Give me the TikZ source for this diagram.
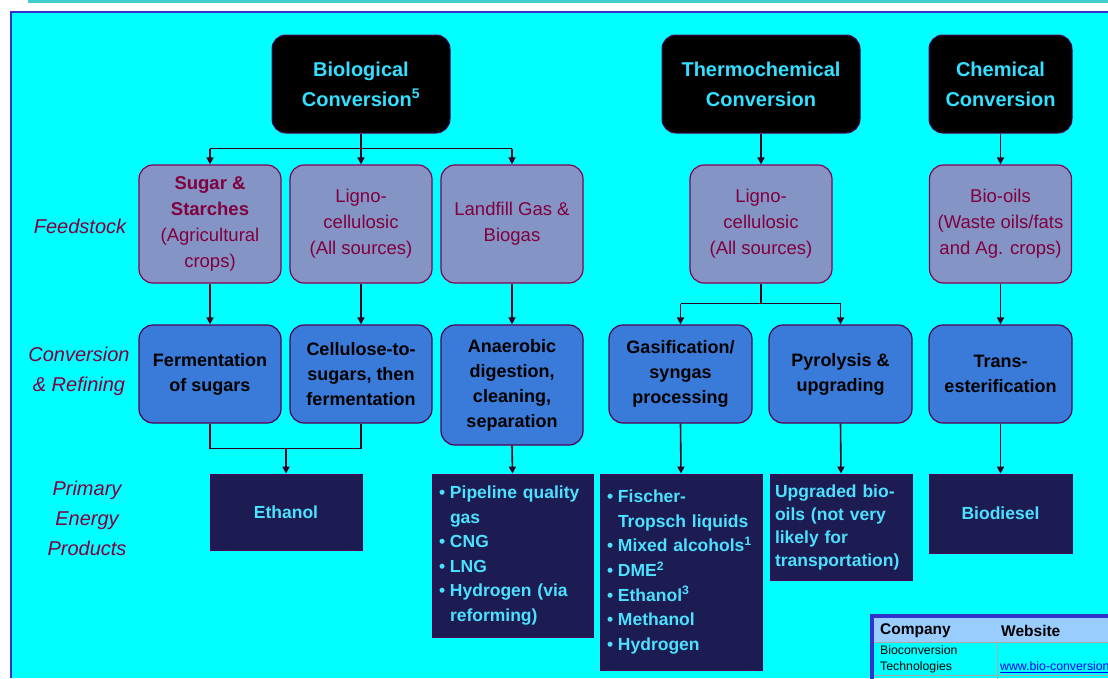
\documentclass[tikz,border=0pt]{standalone}
\usepackage{fontspec}
\setmainfont{Liberation Sans}
\usetikzlibrary{arrows.meta}
\definecolor{bgcyan}{HTML}{00FFFF}
\definecolor{framec}{HTML}{3333CC}
\definecolor{stripc}{HTML}{44CCCC}
\definecolor{feedfill}{HTML}{8494C4}
\definecolor{feedline}{HTML}{880055}
\definecolor{feedtext}{HTML}{800040}
\definecolor{convfill}{HTML}{3A7AD8}
\definecolor{convline}{HTML}{550055}
\definecolor{prodfill}{HTML}{1C1C52}
\definecolor{prodtext}{HTML}{4DE0FF}
\definecolor{toptext}{HTML}{33E0FF}
\definecolor{connc}{HTML}{330022}
\definecolor{labc}{HTML}{800040}
\definecolor{headc}{HTML}{99CCFF}
\definecolor{gridc}{HTML}{AAAAAA}
\definecolor{linkc}{HTML}{0000EE}
\newcommand{\itm}{\makebox[11pt][l]{\textbullet}}
\newcommand{\ind}{\hspace*{11pt}}
\begin{document}
\begin{tikzpicture}[x=1pt,y=-1pt,
  topbox/.style={draw=convline, line width=1pt, fill=black, rounded corners=14pt,
    text=toptext, font=\bfseries\fontsize{20}{30}\selectfont, align=center, inner sep=0pt},
  feedbox/.style={draw=feedline, line width=1.2pt, fill=feedfill, rounded corners=14pt,
    text=feedtext, font=\fontsize{18.5}{26}\selectfont, align=center, inner sep=0pt,
    minimum width=142pt, minimum height=118pt},
  convbox/.style={draw=convline, line width=1.2pt, fill=convfill, rounded corners=14pt,
    text=black, font=\bfseries\fontsize{18}{25}\selectfont, align=center, inner sep=0pt,
    minimum width=142pt, minimum height=98pt},
  prodbox/.style={draw=convline, line width=0.8pt, fill=prodfill,
    text=prodtext, font=\bfseries\fontsize{17.5}{24.6}\selectfont, inner sep=0pt},
  sidelab/.style={text=labc, font=\itshape\fontsize{20}{30}\selectfont, align=center},
  conn/.style={draw=connc, line width=1.6pt},
  arr/.style={conn, -{Triangle[length=7pt,width=7pt]}},
  tabtext/.style={anchor=west, inner sep=0pt, text=black}
]
\useasboundingbox (0,0) rectangle (1108,678);
\fill[white] (0,0) rectangle (1108,678);
\fill[stripc] (28,0) rectangle (1108,3);
\fill[bgcyan] (11,12) rectangle (1108,678);
\draw[framec, line width=2pt] (11,678) -- (11,12) -- (1108,12);

% top boxes
\node[topbox, minimum width=178pt, minimum height=98pt] (bio) at (361,84) {Biological\\Conversion\textsuperscript{5}};
\node[topbox, minimum width=198pt, minimum height=98pt] (thermo) at (761,84) {Thermochemical\\Conversion};
\node[topbox, minimum width=143pt, minimum height=98pt] (chem) at (1000.5,84) {Chemical\\Conversion};

% feedstock
\node[feedbox] (sugar) at (210,224) {\textbf{Sugar \&}\\\textbf{Starches}\\(Agricultural\\crops)};
\node[feedbox] (ligno) at (361,224) {Ligno-\\cellulosic\\(All sources)};
\node[feedbox] (landfill) at (512,224) {Landfill Gas \&\\Biogas};
\node[feedbox] (lignot) at (761,224) {Ligno-\\cellulosic\\(All sources)};
\node[feedbox] (biooil) at (1000.5,224) {Bio-oils\\(Waste oils/fats\\and Ag. crops)};

% conversion
\node[convbox] (ferm) at (210,374) {Fermentation\\of sugars};
\node[convbox] (cell) at (361,374) {Cellulose-to-\\sugars, then\\fermentation};
\node[convbox, minimum height=120pt] (anaer) at (512,385) {Anaerobic\\digestion,\\cleaning,\\separation};
\node[convbox, minimum width=143pt] (gas) at (680.5,374) {Gasification/\\syngas\\processing};
\node[convbox, minimum width=143pt] (pyro) at (840.5,374) {Pyrolysis \&\\upgrading};
\node[convbox, minimum width=143pt] (trans) at (1000.5,374) {Trans-\\esterification};

% products
\node[prodbox, minimum width=152pt, minimum height=76pt, align=center] (ethanol) at (286,512) {Ethanol};
\node[prodbox, minimum width=161pt, minimum height=163pt, text width=147pt, align=left] (pipe) at (512.5,555.5)
  {\itm Pipeline quality\\\ind gas\\\itm CNG\\\itm LNG\\\itm Hydrogen (via\\\ind reforming)};
\node[prodbox, minimum width=162pt, minimum height=196pt, text width=148pt, align=left] (fischer) at (681,572)
  {\itm Fischer-\\\ind Tropsch liquids\\\itm Mixed alcohols\textsuperscript{1}\\\itm DME\textsuperscript{2}\\\itm Ethanol\textsuperscript{3}\\\itm Methanol\\\itm Hydrogen};
\node[prodbox, minimum width=142pt, minimum height=106pt, text width=132pt, align=left,
  font=\bfseries\fontsize{17.5}{23}\selectfont] (upg) at (841,527)
  {Upgraded bio-\\oils (not very\\likely for\\transportation)};
\node[prodbox, minimum width=143pt, minimum height=79pt, align=center] (biodiesel) at (1000.5,513.5) {Biodiesel};

% side labels
\node[sidelab] (lfeed) at (80,226) {Feedstock};
\node[sidelab] (lconv) at (79,371) {Conversion\\\& Refining};
\node[sidelab] (lprod) at (87,518) {Primary\\Energy\\Products};

% connectors: biological
\draw[conn] (bio.south) -- ++(0,15) coordinate (bj);
\draw[conn] (bj -| sugar.north) -- (bj -| landfill.north);
\draw[arr] (bj -| sugar.north) -- (sugar.north);
\draw[arr] (bj -| ligno.north) -- (ligno.north);
\draw[arr] (bj -| landfill.north) -- (landfill.north);
\draw[arr] (thermo.south) -- (lignot.north);
\draw[arr] (chem.south) -- (biooil.north);
\draw[arr] (sugar.south) -- (ferm.north);
\draw[arr] (ligno.south) -- (cell.north);
\draw[arr] (landfill.south) -- (anaer.north);
\draw[arr] (biooil.south) -- (trans.north);
\draw[conn] (lignot.south) -- ++(0,20) coordinate (tj);
\draw[conn] (tj -| gas.north) -- (tj -| pyro.north);
\draw[arr] (tj -| gas.north) -- (gas.north);
\draw[arr] (tj -| pyro.north) -- (pyro.north);
\draw[conn] (ferm.south) -- ++(0,25) coordinate (ej1);
\draw[conn] (cell.south) -- ++(0,25) coordinate (ej2);
\draw[conn] (ej1) -- (ej2);
\draw[arr] (ej1 -| ethanol.north) -- (ethanol.north);
\draw[arr] (anaer.south) -- (pipe.north);
\draw[arr] (gas.south) -- (fischer.north);
\draw[arr] (pyro.south) -- (upg.north);
\draw[arr] (trans.south) -- (biodiesel.north);

% table
\begin{scope}
\clip (0,0) rectangle (1108,678);
\fill[headc] (872,616) rectangle (1130,642);
\draw[gridc, line width=0.8pt] (872,642) -- (1130,642);
\draw[gridc, line width=0.8pt] (872,675) -- (1130,675);
\draw[gridc, line width=0.8pt] (997,642) -- (997,690);
\draw[framec, line width=3.5pt] (872,700) -- (872,616) -- (1130,616);
\node[tabtext, font=\bfseries\fontsize{15.5}{18}\selectfont] (tc1) at (880,631) {Company};
\node[tabtext, font=\bfseries\fontsize{15.5}{18}\selectfont] (tc2) at (1001,631) {Website};
\node[tabtext, font=\fontsize{12.3}{14}\selectfont] (tr1) at (880,650) {Bioconversion};
\node[tabtext, font=\fontsize{12.3}{14}\selectfont] (tr2) at (880,667) {Technologies};
\node[tabtext, text=linkc, font=\fontsize{12.3}{14}\selectfont] (tlink) at (1000,667) {\underline{www.bio-conversion}};
\end{scope}
\end{tikzpicture}
\end{document}
